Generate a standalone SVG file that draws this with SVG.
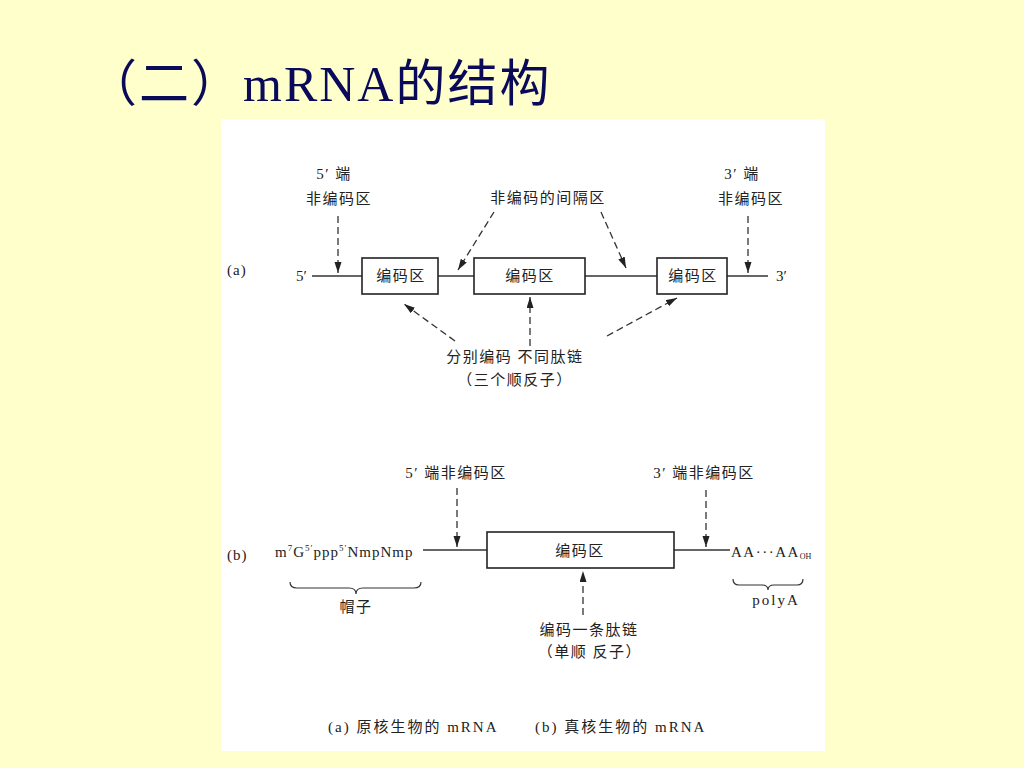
<svg xmlns="http://www.w3.org/2000/svg" width="1024" height="768" viewBox="0 0 1024 768">
<defs>
<marker id="ah" markerUnits="userSpaceOnUse" markerWidth="12" markerHeight="8" refX="11" refY="3.5" orient="auto">
<path d="M0,0 L11,3.5 L0,7 z" fill="#222"/>
</marker>
<style>
.t{font-family:"Liberation Serif","Noto Sans CJK SC",serif;font-size:15px;fill:#222;}
.c{text-anchor:middle;}
.ls{letter-spacing:1.5px;}
.box{fill:#fff;stroke:#222;stroke-width:1.6;}
.ln{stroke:#333;stroke-width:1.3;fill:none;}
.da{stroke:#333;stroke-width:1.3;stroke-dasharray:7,4;fill:none;marker-end:url(#ah);}
.br{stroke:#333;stroke-width:1.2;fill:none;}
</style>
</defs>
<rect x="0" y="0" width="1024" height="768" fill="#FFFFCC"/>
<rect x="221" y="119" width="604" height="632" fill="#FFFFFF"/>
<text x="87" y="101" font-family="Liberation Serif,'Noto Sans CJK SC',serif" font-size="50" letter-spacing="2" fill="#0a0a5a">（二）mRNA的结构</text>

<g id="connectors">
<line class="ln" x1="312" y1="276" x2="362" y2="276"/>
<line class="ln" x1="438" y1="276" x2="474" y2="276"/>
<line class="ln" x1="585" y1="276" x2="657" y2="276"/>
<line class="ln" x1="727" y1="276" x2="768" y2="276"/>
<line class="da" x1="338" y1="216" x2="338" y2="273"/>
<line class="da" x1="494" y1="212" x2="458" y2="270"/>
<line class="da" x1="601" y1="212" x2="626" y2="268"/>
<line class="da" x1="748" y1="216" x2="748" y2="273"/>
<line class="da" x1="455" y1="341" x2="404" y2="304"/>
<line class="da" x1="530" y1="346" x2="530" y2="297"/>
<line class="da" x1="607" y1="336" x2="677" y2="298"/>
<line class="ln" x1="423" y1="550" x2="487" y2="550"/>
<line class="ln" x1="674" y1="550" x2="730" y2="550"/>
<line class="da" x1="457" y1="488" x2="457" y2="547"/>
<line class="da" x1="706" y1="490" x2="706" y2="547"/>
<line class="da" x1="583" y1="615" x2="583" y2="571"/>
<path class="br" d="M290,582 q0,6 7,6 L349,588 q7,0 7,6 q0,-6 7,-6 L414,588 q7,0 7,-6"/>
<path class="br" d="M733,579 q0,6 6,6 L762,585 q6,0 6,5 q0,-5 6,-5 L797,585 q6,0 6,-6"/>
</g>

<g id="label-a">
<text class="t" x="227" y="275" font-size="16" letter-spacing="1">(a)</text>
<text class="t" x="296" y="281">5′</text>
<text class="t" x="776" y="281">3′</text>
</g>
<g id="utr5-a">
<text class="t c ls" x="334" y="179">5′ 端</text>
<text class="t c ls" x="339" y="204">非编码区</text>
</g>
<g id="spacer-a">
<text class="t c ls" x="548" y="203">非编码的间隔区</text>
</g>
<g id="utr3-a">
<text class="t c ls" x="742" y="179">3′ 端</text>
<text class="t c ls" x="751" y="204">非编码区</text>
</g>
<g id="cds1-a">
<rect class="box" x="362" y="258" width="76" height="36"/>
<text class="t c ls" x="401" y="281">编码区</text>
</g>
<g id="cds2-a">
<rect class="box" x="474" y="258" width="111" height="36"/>
<text class="t c ls" x="530" y="281">编码区</text>
</g>
<g id="cds3-a">
<rect class="box" x="657" y="258" width="70" height="36"/>
<text class="t c ls" x="693" y="281">编码区</text>
</g>
<g id="poly-a">
<text class="t c ls" x="515" y="362">分别编码 不同肽链</text>
<text class="t c ls" x="515" y="385">（三个顺反子）</text>
</g>

<g id="label-b">
<text class="t" x="227" y="560" font-size="16" letter-spacing="1">(b)</text>
</g>
<g id="cap-b">
<text class="t" x="275" y="557" font-size="16.5" letter-spacing="1">m<tspan font-size="9" dy="-6">7</tspan><tspan dy="6">G</tspan><tspan font-size="9" dy="-6">5′</tspan><tspan dy="6">ppp</tspan><tspan font-size="9" dy="-6">5′</tspan><tspan dy="6">NmpNmp</tspan></text>
<text class="t c ls" x="356" y="612">帽子</text>
</g>
<g id="utr5-b">
<text class="t c ls" x="456" y="478">5′ 端非编码区</text>
</g>
<g id="utr3-b">
<text class="t c ls" x="704" y="478">3′ 端非编码区</text>
</g>
<g id="cds-b">
<rect class="box" x="487" y="532" width="187" height="36"/>
<text class="t c ls" x="580" y="556">编码区</text>
</g>
<g id="polyA-b">
<text class="t ls" x="731" y="557" font-size="16">AA···AA<tspan font-size="8" dy="2" letter-spacing="0">OH</tspan></text>
<text class="t c" x="776" y="605" font-size="16" letter-spacing="2">polyA</text>
</g>
<g id="mono-b">
<text class="t c ls" x="589" y="635">编码一条肽链</text>
<text class="t c ls" x="590" y="657">（单顺 反子）</text>
</g>
<g id="caption">
<text class="t" x="328" y="732" font-size="15.5" letter-spacing="2">(a) 原核生物的 mRNA</text>
<text class="t" x="535" y="732" font-size="15.5" letter-spacing="2">(b) 真核生物的 mRNA</text>
</g>
</svg>
